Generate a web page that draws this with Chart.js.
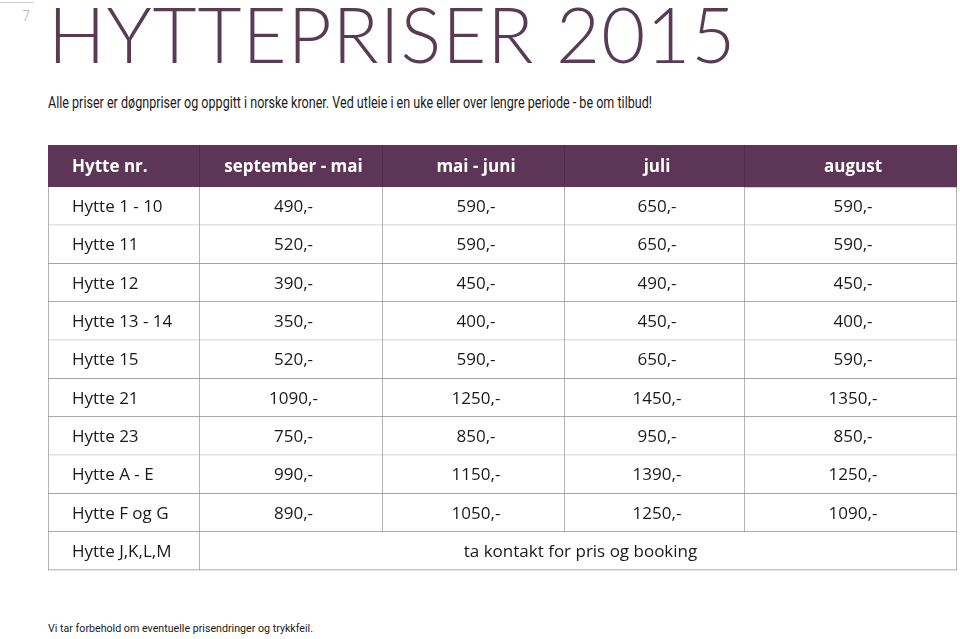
<!DOCTYPE html>
<html>
<head>
<meta charset="utf-8">
<script src="https://cdn.jsdelivr.net/npm/chart.js@4"></script>
<style>
    html, body { margin: 0; padding: 0; background: #fff; }
    body { width: 960px; height: 639px; position: relative; overflow: hidden; font-family: 'Open Sans', sans-serif; }
    #page-no { position: absolute; left: 22px; top: 6px; font: 300 14px 'Open Sans', sans-serif; color: #a8a8a8; }
    #page-line { position: absolute; left: 0; top: 2px; width: 34px; height: 1px; background: #cfcfcf; }
    #title { position: absolute; left: 48px; top: -12px; font: 300 76px 'Lato', sans-serif; color: #5a3b56; letter-spacing: 1px; white-space: nowrap; }
    #intro { position: absolute; left: 48px; top: 92px; font: 17px 'Roboto', sans-serif; color: #1a1a1a; white-space: nowrap; transform-origin: left top; }
    #table-box { position: absolute; left: 48px; top: 145px; width: 909px; height: 426px; }
    #footnote { position: absolute; left: 48px; top: 622px; font: 11px 'Roboto', sans-serif; color: #1a1a1a; white-space: nowrap; transform-origin: left top; }
</style>
</head>
<body>
<div id="page-line"></div>
<div id="page-no">7</div>
<div id="title">HYTTEPRISER 2015</div>
<div id="intro">Alle priser er døgnpriser og oppgitt i norske kroner. Ved utleie i en uke eller over lengre periode - be om tilbud!</div>
<div id="table-box"><canvas id="price-table"></canvas></div>
<div id="footnote">Vi tar forbehold om eventuelle prisendringer og trykkfeil.</div>
<script>
// Kolonner og hytter
const columns = ['Hytte nr.', 'september - mai', 'mai - juni', 'juli', 'august'];
const cabins = ['Hytte 1 - 10', 'Hytte 11', 'Hytte 12', 'Hytte 13 - 14', 'Hytte 15', 'Hytte 21', 'Hytte 23', 'Hytte A - E', 'Hytte F og G', 'Hytte J,K,L,M'];

// Døgnpriser (NOK), null = ta kontakt
const septMai = [490, 520, 390, 350, 520, 1090, 750, 990, 890, null];
const maiJuni = [590, 590, 450, 400, 590, 1250, 850, 1150, 1050, null];
const juli = [650, 650, 490, 450, 650, 1450, 950, 1390, 1250, null];
const august = [590, 590, 450, 400, 590, 1350, 850, 1250, 1090, null];
const contactText = 'ta kontakt for pris og booking';

// Tabellens rutenett (i px innenfor tabellboksen)
const colEdges = [0, 152, 335, 517, 697, 909];
const HEADER_H = 42;
const ROW_H = 38.3;

const PURPLE = '#5d3657';
const GRID = '#8f8f8f';
const FONT = "'Open Sans', sans-serif";

// Smal skrift i ingress og fotnote: skaler til bredden i originalen
function fitWidth(el, width) {
    const w = el.getBoundingClientRect().width;
    el.style.transform = `scaleX(${width / w})`;
}
fitWidth(document.getElementById('intro'), 604);
fitWidth(document.getElementById('footnote'), 265);

const priceColumns = [septMai, maiJuni, juli, august];
const rowCenter = i => HEADER_H + ROW_H * i + ROW_H / 2;

// Overskriftsrad
const headerSet = {
    label: 'header',
    data: columns.map((c, j) => ({ x: [colEdges[j], colEdges[j + 1]], y: HEADER_H / 2 })),
    texts: columns,
    align: columns.map((c, j) => j === 0 ? 'left' : 'center'),
    textColor: '#ffffff',
    textFont: `bold 17px ${FONT}`,
    backgroundColor: PURPLE,
    borderColor: '#472843',
    borderWidth: columns.map((c, j) => ({ top: 0, left: 0, bottom: 0, right: j < columns.length - 1 ? 1 : 0 })),
    barThickness: HEADER_H
};

// Innholdsrader
const bodyData = [];
const bodyTexts = [];
const bodyAlign = [];
const bodyBorders = [];
cabins.forEach((name, i) => {
    bodyData.push({ x: [colEdges[0], colEdges[1]], y: rowCenter(i) });
    bodyTexts.push(name);
    bodyAlign.push('left');
    bodyBorders.push({ top: 0, left: 1, bottom: 1, right: 1 });
    if (priceColumns.every(col => col[i] === null)) {
        bodyData.push({ x: [colEdges[1], colEdges[5]], y: rowCenter(i) });
        bodyTexts.push(contactText);
        bodyAlign.push('center');
        bodyBorders.push({ top: 0, left: 0, bottom: 1, right: 1 });
        return;
    }
    priceColumns.forEach((col, j) => {
        bodyData.push({ x: [colEdges[j + 1], colEdges[j + 2]], y: rowCenter(i) });
        bodyTexts.push(`${col[i]},-`);
        bodyAlign.push('center');
        bodyBorders.push({ top: 0, left: 0, bottom: 1, right: 1 });
    });
});

const bodySet = {
    label: 'body',
    data: bodyData,
    texts: bodyTexts,
    align: bodyAlign,
    textColor: '#1a1a1a',
    textFont: `17px ${FONT}`,
    backgroundColor: '#ffffff',
    borderColor: GRID,
    borderWidth: bodyBorders,
    barThickness: ROW_H
};

// Skriver teksten i hver celle
const cellTextPlugin = {
    id: 'cellText',
    afterDatasetsDraw(chart) {
        const ctx = chart.ctx;
        chart.data.datasets.forEach((ds, di) => {
            const meta = chart.getDatasetMeta(di);
            ctx.save();
            ctx.font = ds.textFont;
            ctx.fillStyle = ds.textColor;
            ctx.textBaseline = 'middle';
            meta.data.forEach((bar, k) => {
                const { x, y, base } = bar.getProps(['x', 'y', 'base'], true);
                const left = Math.min(x, base);
                const right = Math.max(x, base);
                if (ds.align[k] === 'left') {
                    ctx.textAlign = 'left';
                    ctx.fillText(ds.texts[k], left + 24, y + 1);
                } else {
                    ctx.textAlign = 'center';
                    ctx.fillText(ds.texts[k], (left + right) / 2 + 2, y + 1);
                }
            });
            ctx.restore();
        });
    }
};

new Chart(document.getElementById('price-table'), {
    type: 'bar',
    data: { datasets: [headerSet, bodySet] },
    options: {
        indexAxis: 'y',
        animation: false, responsive: true, maintainAspectRatio: false,
        grouped: false,
        borderSkipped: false,
        layout: { padding: 0, autoPadding: false },
        plugins: { legend: { display: false }, tooltip: { enabled: false }, title: { display: false } },
        scales: {
            x: { type: 'linear', display: false, offset: false, min: colEdges[0], max: colEdges[colEdges.length - 1] },
            y: { type: 'linear', display: false, offset: false, reverse: true, min: 0, max: HEADER_H + ROW_H * cabins.length + 0.7 }
        }
    },
    plugins: [cellTextPlugin]
});
</script>
</body>
</html>
